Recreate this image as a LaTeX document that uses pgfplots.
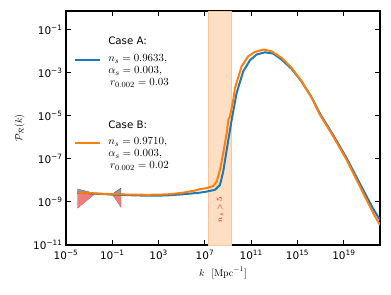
\documentclass[border=0pt]{standalone}
\usepackage[no-math]{fontspec}
\usepackage{pgfplots}
\pgfplotsset{compat=1.18}
\newfontfamily\dejavu{DejaVu Sans}
\definecolor{cA}{HTML}{1F77B4}
\definecolor{cB}{HTML}{FF7F0E}
\definecolor{bandfill}{RGB}{255,223,195}
\definecolor{bandedge}{RGB}{252,196,152}
\definecolor{bowred}{RGB}{240,125,125}
\definecolor{bowgray}{RGB}{120,120,120}
\begin{document}
\begin{tikzpicture}
\useasboundingbox (-66bp,-50bp) rectangle (325bp,245bp);
\begin{axis}[
  at={(0,0)}, anchor=south west,
  scale only axis, width=314bp, height=234bp,
  xmode=log, ymode=log,
  xmin=1e-5, xmax=1.32e22, ymin=1e-11, ymax=0.72,
  xtick={1e-5,1e-1,1e3,1e7,1e11,1e15,1e19},
  xticklabels={10\textsuperscript{−5},10\textsuperscript{−1},10\textsuperscript{3},10\textsuperscript{7},10\textsuperscript{11},10\textsuperscript{15},10\textsuperscript{19}},
  ytick={1e-11,1e-9,1e-7,1e-5,1e-3,1e-1},
  yticklabels={10\textsuperscript{−11},10\textsuperscript{−9},10\textsuperscript{−7},10\textsuperscript{−5},10\textsuperscript{−3},10\textsuperscript{−1}},
  xminorticks=false, yminorticks=false,
  tick align=inside, tick pos=both,
  major tick length=5pt,
  tick style={black, line width=0.9pt},
  axis line style={black, line width=1.1pt},
  ticklabel style={font=\dejavu\fontsize{10.5}{12}\selectfont},
  xticklabel style={yshift=-1.5pt},
  xlabel={$k\ \ [\mathrm{Mpc}^{-1}]$},
  ylabel={$\mathcal{P}_\mathcal{R}(k)$},
  xlabel style={at={(axis description cs:0.5,-0.12)}, anchor=center},
  ylabel style={at={(axis description cs:-0.148,0.5)}, anchor=center},
]
% band n_s > 5
\addplot[fill=bandfill, draw=bandedge, line width=0.6pt, forget plot]
  coordinates {(2e7,1e-11) (2e7,0.72) (2e9,0.72) (2e9,1e-11)} -- cycle;
\node[rotate=90, text=red, font=\fontsize{8.5}{10}\selectfont] at (axis cs:2e8,4.3e-10) {$n_s > 5$};
% bowtie constraints
\addplot[fill=bowred, draw=bowred!80!black, line width=0.3pt, forget plot]
  coordinates {(1e-4,2.55e-9) (2.6e-3,2.25e-9) (2.6e-3,2.15e-9) (1e-4,5.13e-10)} -- cycle;
\addplot[fill=bowred, draw=bowred!80!black, line width=0.3pt, forget plot]
  coordinates {(0.1,2.2e-9) (0.56,2.4e-9) (0.56,5.62e-10)} -- cycle;
\addplot[fill=bowgray, fill opacity=0.75, draw=black!70, line width=0.3pt, forget plot]
  coordinates {(1e-4,3.98e-9) (3e-3,2.5e-9) (0.1,2.35e-9) (0.56,4.37e-9) (0.56,2.4e-9) (0.1,2.2e-9) (3e-3,2.3e-9) (1e-4,2.55e-9)} -- cycle;
% Case A
\addplot[cA, line width=2pt] coordinates {
(1e-4,2.69e-9) (1e-3,2.51e-9) (1e-2,2.34e-9) (1e-1,2.19e-9) (1,2.09e-9) (1e1,2.00e-9)
(1e2,1.95e-9) (1e3,1.95e-9) (1e4,2.04e-9) (1e5,2.24e-9) (1e6,2.51e-9) (3.72e6,2.69e-9)
(1.41e7,3.02e-9) (7.41e7,3.63e-9) (2.0e8,6.17e-9) (3.8e8,2.57e-8) (7.59e8,2.63e-7)
(2.04e9,6.46e-6) (5.5e9,1.15e-4) (2.04e10,1.15e-3) (7.76e10,3.72e-3) (2.95e11,6.92e-3)
(1.51e12,8.71e-3) (7.94e12,7.59e-3) (4.27e13,3.98e-3) (3.09e14,1.48e-3) (2.24e15,3.80e-4)
(1.66e16,7.08e-5) (8.51e16,1.26e-5) (1.20e18,1.26e-6) (1.74e19,1.07e-7) (2.45e20,6.92e-9)
(3.47e21,4.68e-10) (1.32e22,1.45e-10)};
% Case B
\addplot[cB, line width=2pt] coordinates {
(1e-4,2.69e-9) (1e-3,2.57e-9) (1e-2,2.40e-9) (1e-1,2.29e-9) (1,2.21e-9) (1e1,2.16e-9)
(1e2,2.14e-9) (1e3,2.16e-9) (1e4,2.29e-9) (1e5,2.63e-9) (1e6,3.24e-9) (3.72e6,3.89e-9)
(1.41e7,4.37e-9) (5.25e7,5.50e-9) (1.02e8,8.71e-9) (2.0e8,3.09e-8) (3.8e8,1.86e-7)
(7.59e8,1.58e-6) (1.05e9,6.46e-6) (1.45e9,9.33e-6) (2.82e9,5.50e-5) (3.89e9,1.91e-4)
(1.48e10,1.95e-3) (5.5e10,5.75e-3) (2.09e11,9.12e-3) (1.10e12,1.17e-2) (5.75e12,9.77e-3)
(4.27e13,4.79e-3) (3.09e14,1.66e-3) (2.24e15,3.98e-4) (1.66e16,6.61e-5) (8.51e16,1.12e-5)
(1.20e18,1.10e-6) (1.74e19,8.91e-8) (2.45e20,5.13e-9) (3.47e21,2.95e-10) (1.32e22,8.51e-11)};
% legend
\draw[cA, line width=2pt] (rel axis cs:0.0287,0.791) -- (rel axis cs:0.108,0.791);
\draw[cB, line width=2pt] (rel axis cs:0.0287,0.436) -- (rel axis cs:0.108,0.436);
\node[anchor=base west, inner sep=0pt, font=\fontsize{10.9}{12}\selectfont] at (rel axis cs:0.134,0.855)
  {\begin{tabular}[t]{@{}l@{}}{\dejavu\fontsize{10.3}{12}\selectfont Case A:}\\[5pt]$n_s=0.9633,$\\$\alpha_s=0.003,$\\\,$r_{0.002}=0.03$\end{tabular}};
\node[anchor=base west, inner sep=0pt, font=\fontsize{10.9}{12}\selectfont] at (rel axis cs:0.134,0.500)
  {\begin{tabular}[t]{@{}l@{}}{\dejavu\fontsize{10.3}{12}\selectfont Case B:}\\[5pt]$n_s=0.9710,$\\$\alpha_s=0.003,$\\\,$r_{0.002}=0.02$\end{tabular}};
\end{axis}
\end{tikzpicture}
\end{document}
